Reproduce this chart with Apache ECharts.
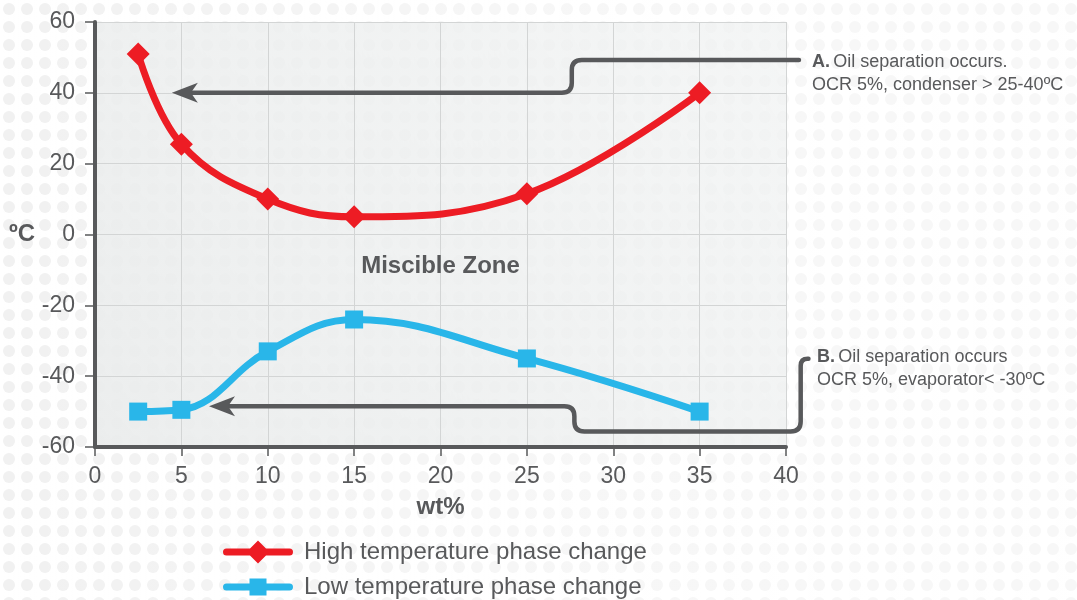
<!DOCTYPE html>
<html><head><meta charset="utf-8">
<script src="https://cdn.jsdelivr.net/npm/echarts@6/dist/echarts.min.js"></script>
<style>html,body{margin:0;padding:0;background:#fff}#c{width:1077px;height:600px}</style>
</head><body><div id="c"></div>
<script>
// ---- data ----
const wtPercent = [2.5, 5, 10, 15, 25, 35];
const highTemp = [51, 25.5, 10, 5, 11.5, 40];
const lowTemp = [-50, -49.5, -33, -24, -35, -50];
const seriesNames = ['High temperature phase change', 'Low temperature phase change'];
const xAxisTitle = 'wt%';
const yAxisTitle = 'ºC';
const zoneLabel = 'Miscible Zone';
const noteA = ['A.', 'Oil separation occurs.', 'OCR 5%, condenser > 25-40ºC'];
const noteB = ['B.', 'Oil separation occurs', 'OCR 5%, evaporator< -30ºC'];

// ---- styles / layout ----
const GRAY = '#58595b';
const RED = '#ed1c24';
const BLUE = '#29b6e9';
const FONT = '"Liberation Sans", Arial, sans-serif';
const zonePos = [20, -9];
const arrowA = {tip: [4.45, 40], stepX: 27.6, upperY: 49.3, endX: 40.75};
const arrowB = {tip: [6.6, -48.5], stepX: 27.75, lowerY: -55.6, rightX: 40.85, topY: -35.1, stubX: 41.3};

// legend icons (line + marker), drawn in a 70x24 box
const lineIcon = 'M3.5 8.5 H66.5 A3.5 3.5 0 0 1 66.5 15.5 H3.5 A3.5 3.5 0 0 1 3.5 8.5 Z ';
const redIcon = 'path://' + lineIcon + 'M35 0.5 L46.5 12 L35 23.5 L23.5 12 Z';
const blueIcon = 'path://' + lineIcon + 'M26.5 3.5 H43.5 V20.5 H26.5 Z M35 0 L35.01 0 M35 24 L35.01 24';

const chart = echarts.init(document.getElementById('c'), null, {renderer: 'canvas'});

// dotted background pattern
const pc = document.createElement('canvas');
pc.width = 18; pc.height = 18;
const g = pc.getContext('2d');
g.fillStyle = '#f1f1f1';
g.beginPath(); g.arc(9, 9, 6, 0, Math.PI * 2); g.fill();

function arrowHead(tx, ty) {
  return {type: 'polygon', shape: {points: [[tx, ty], [tx + 26, ty - 10], [tx + 19, ty], [tx + 26, ty + 10]]},
    style: {fill: GRAY}};
}
const arrowLine = {stroke: GRAY, lineWidth: 4.5, fill: 'none', lineCap: 'round', lineJoin: 'round'};

function renderArrows(params, api) {
  const r = 10, rb = 7;
  if (params.dataIndex === 0) {
    const t = api.coord(arrowA.tip);
    const s = api.coord([arrowA.stepX, arrowA.upperY]);
    const e = api.coord([arrowA.endX, arrowA.upperY]);
    const d = `M${t[0] + 20} ${t[1]} L${s[0] - r} ${t[1]} Q${s[0]} ${t[1]} ${s[0]} ${t[1] - r} ` +
      `L${s[0]} ${s[1] + r} Q${s[0]} ${s[1]} ${s[0] + r} ${s[1]} L${e[0]} ${e[1]}`;
    return {type: 'group', children: [
      {type: 'path', shape: {pathData: d}, style: arrowLine}, arrowHead(t[0], t[1])]};
  }
  const t = api.coord(arrowB.tip);
  const s = api.coord([arrowB.stepX, arrowB.lowerY]);
  const q = api.coord([arrowB.rightX, arrowB.topY]);
  const sx = api.coord([arrowB.stubX, arrowB.topY])[0];
  const d = `M${t[0] + 20} ${t[1]} L${s[0] - r} ${t[1]} Q${s[0]} ${t[1]} ${s[0]} ${t[1] + r} ` +
    `L${s[0]} ${s[1] - r} Q${s[0]} ${s[1]} ${s[0] + r} ${s[1]} L${q[0] - r} ${s[1]} ` +
    `Q${q[0]} ${s[1]} ${q[0]} ${s[1] - r} L${q[0]} ${q[1] + rb} Q${q[0]} ${q[1]} ${q[0] + rb} ${q[1]} L${sx} ${q[1]}`;
  return {type: 'group', children: [
    {type: 'path', shape: {pathData: d}, style: arrowLine}, arrowHead(t[0], t[1])]};
}

const rich = {
  b: {fontWeight: 'bold', fontSize: 18, fontFamily: FONT, fill: GRAY, lineHeight: 23},
  n: {fontSize: 18, fontFamily: FONT, fill: GRAY, lineHeight: 23}
};

const option = {
  animation: false,
  grid: {
    left: 95, right: 291, top: 22, bottom: 153, show: true, borderWidth: 0,
    backgroundColor: {type: 'linear', x: 0, y: 1, x2: 1, y2: 0, colorStops: [
      {offset: 0, color: 'rgba(234,236,236,0.92)'},
      {offset: 1, color: 'rgba(240,242,242,0.7)'}]}
  },
  xAxis: {
    type: 'value', min: 0, max: 40, interval: 5,
    name: xAxisTitle, nameLocation: 'middle', nameGap: 48,
    nameTextStyle: {fontSize: 24, fontWeight: 'bold', color: GRAY, fontFamily: FONT},
    axisLine: {show: true, onZero: false, lineStyle: {color: GRAY, width: 4}},
    axisTick: {show: true, length: 9, lineStyle: {color: GRAY, width: 1.5}},
    axisLabel: {margin: 18, fontSize: 23, color: GRAY, fontFamily: FONT},
    splitLine: {show: true, lineStyle: {color: '#d3d5d5', width: 1}}
  },
  yAxis: {
    type: 'value', min: -60, max: 60, interval: 20,
    name: yAxisTitle, nameLocation: 'middle', nameRotate: 0, nameGap: 60,
    nameTextStyle: {fontSize: 24, fontWeight: 'bold', color: GRAY, fontFamily: FONT},
    axisLine: {show: true, onZero: false, lineStyle: {color: GRAY, width: 4}},
    axisTick: {show: true, length: 10, lineStyle: {color: GRAY, width: 1.5}},
    axisLabel: {margin: 20, fontSize: 23, color: GRAY, fontFamily: FONT},
    splitLine: {show: true, lineStyle: {color: '#d3d5d5', width: 1}}
  },
  legend: {
    orient: 'vertical', left: 223, top: 540, padding: 0, itemWidth: 70, itemHeight: 24, itemGap: 11,
    textStyle: {fontSize: 24, color: GRAY, fontFamily: FONT, padding: [0, 0, 0, 6]},
    data: [{name: seriesNames[0], icon: redIcon}, {name: seriesNames[1], icon: blueIcon}]
  },
  graphic: [
    {type: 'rect', z: -20, silent: true, shape: {x: 0, y: 0, width: 1077, height: 600},
      style: {fill: {image: pc, repeat: 'repeat'}}},
    {type: 'rect', z: -19, silent: true, shape: {x: 0, y: 0, width: 1077, height: 600},
      style: {fill: {type: 'linear', x: 0, y: 0, x2: 1, y2: 0, colorStops: [
        {offset: 0, color: 'rgba(255,255,255,0)'},
        {offset: 0.5, color: 'rgba(255,255,255,0.4)'},
        {offset: 1, color: 'rgba(255,255,255,0.45)'}]}}},
    {type: 'text', z: 3, silent: true, style: {x: 812, y: 50.5,
      text: `{b|${noteA[0]}} {n|${noteA[1]}}\n{n|${noteA[2]}}`, rich: rich}},
    {type: 'text', z: 3, silent: true, style: {x: 817, y: 345.5,
      text: `{b|${noteB[0]}} {n|${noteB[1]}}\n{n|${noteB[2]}}`, rich: rich}}
  ],
  series: [
    {
      name: seriesNames[0], type: 'line', smooth: 0.4, z: 5,
      data: wtPercent.map((x, i) => [x, highTemp[i]]),
      symbol: 'diamond', symbolSize: 23,
      lineStyle: {color: RED, width: 7},
      itemStyle: {color: RED},
      markPoint: {
        symbol: 'rect', symbolSize: 0, silent: true,
        data: [{coord: zonePos, label: {show: true, formatter: zoneLabel, position: 'inside',
          fontSize: 24, fontWeight: 'bold', color: GRAY, fontFamily: FONT}}]
      }
    },
    {
      name: seriesNames[1], type: 'line', smooth: 0.4, z: 5,
      data: wtPercent.map((x, i) => [x, lowTemp[i]]),
      symbol: 'rect', symbolSize: 18,
      lineStyle: {color: BLUE, width: 7},
      itemStyle: {color: BLUE}
    },
    {
      name: 'annotations', type: 'custom', z: 3, silent: true, clip: false,
      renderItem: renderArrows,
      data: [[0, 0], [0, 0]]
    }
  ]
};
chart.setOption(option);
</script></body></html>
